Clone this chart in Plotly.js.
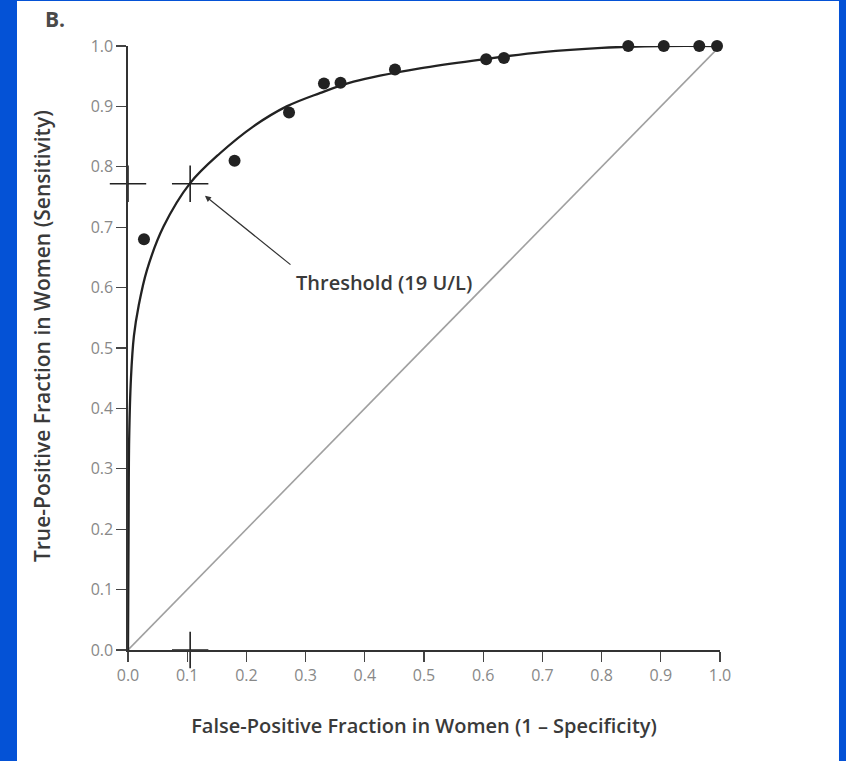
<!DOCTYPE html>
<html>
<head>
<meta charset="utf-8">
<script src="https://cdn.plot.ly/plotly-3.0.1.min.js"></script>
<style>html,body{margin:0;padding:0;background:#0452d6;}#chart{width:846px;height:761px;}</style>
</head>
<body>
<div id="chart"></div>
<script>
// Observed data points (false-positive fraction, true-positive fraction)
const pointsFPF = [0.027, 0.18, 0.272, 0.331, 0.359, 0.451, 0.605, 0.635, 0.845, 0.905, 0.965, 0.995];
const pointsTPF = [0.68, 0.81, 0.89, 0.938, 0.939, 0.961, 0.978, 0.98, 1.0, 1.0, 1.0, 1.0];

// Fitted ROC curve
const curveFPF = [0, 0.001, 0.002, 0.005, 0.01, 0.018, 0.032, 0.06, 0.105, 0.155, 0.212, 0.268, 0.324, 0.381, 0.493, 0.6, 0.7, 0.8, 0.9, 1.0];
const curveTPF = [0, 0.2, 0.35, 0.45, 0.52, 0.57, 0.629, 0.701, 0.773, 0.822, 0.867, 0.9, 0.922, 0.941, 0.963, 0.978, 0.99, 0.997, 1.0, 1.0];

// Chance line
const chanceX = [0, 1];
const chanceY = [0, 1];

// Threshold markers
const thresholdFPF = [0.105, 0, 0.105];
const thresholdTPF = [0.772, 0.772, 0];
const thresholdLabel = "Threshold (19 U/L)";

const tickVals = [0, 0.1, 0.2, 0.3, 0.4, 0.5, 0.6, 0.7, 0.8, 0.9, 1.0];
const tickText = ["0.0", "0.1", "0.2", "0.3", "0.4", "0.5", "0.6", "0.7", "0.8", "0.9", "1.0"];

const xTitle = "False-Positive Fraction in Women (1 \u2013 Specificity)";
const yTitle = "True-Positive Fraction in Women (Sensitivity)";
const panelLabel = "B.";

const font = "'Open Sans', 'DejaVu Sans', sans-serif";

const traces = [
  {x: chanceX, y: chanceY, mode: 'lines', line: {color: '#a0a0a0', width: 1.6}, cliponaxis: false},
  {x: curveFPF, y: curveTPF, mode: 'lines', line: {color: '#222', width: 2.3, shape: 'spline', smoothing: 1}, cliponaxis: false},
  {x: pointsFPF, y: pointsTPF, mode: 'markers', marker: {color: '#222', size: 12}, cliponaxis: false},
  {x: thresholdFPF, y: thresholdTPF, mode: 'markers',
   marker: {symbol: 'cross-thin-open', size: 26, color: '#222', line: {color: '#222', width: 1.6}}, cliponaxis: false}
];

const axisCommon = {
  range: [0, 1],
  tickvals: tickVals,
  ticktext: tickText,
  ticks: 'outside',
  tickcolor: '#444',
  tickwidth: 1.2,
  showgrid: false,
  zeroline: false,
  showline: true,
  linecolor: '#333',
  linewidth: 1.6,
  tickfont: {family: font, size: 16, color: '#888'},
  fixedrange: true
};

const layout = {
  width: 846,
  height: 761,
  margin: {l: 128, r: 126, t: 46, b: 111},
  paper_bgcolor: '#0452d6',
  plot_bgcolor: 'rgba(0,0,0,0)',
  showlegend: false,
  xaxis: Object.assign({}, axisCommon, {
    ticklen: 10,
    title: {text: xTitle, font: {family: font, size: 20, weight: 600, color: '#3a3a3a'}, standoff: 34}
  }),
  yaxis: Object.assign({}, axisCommon, {
    ticklen: 10
  }),
  shapes: [
    {type: 'rect', xref: 'paper', yref: 'paper', x0: -0.1875, x1: 1.201, y0: -0.19, y1: 1.0745,
     fillcolor: '#ffffff', line: {width: 0}, layer: 'below'}
  ],
  annotations: [
    {xref: 'paper', yref: 'paper', x: -0.145, y: 0.52, xanchor: 'center', yanchor: 'middle', textangle: -90,
     text: yTitle, showarrow: false, font: {family: font, size: 21, weight: 600, color: '#3a3a3a'}},
    {xref: 'x', yref: 'y', x: 0.13, y: 0.752, axref: 'x', ayref: 'y', ax: 0.277, ay: 0.636,
     text: '', showarrow: true, arrowhead: 2, arrowsize: 1, arrowwidth: 1.2, arrowcolor: '#333'},
    {xref: 'x', yref: 'y', x: 0.433, y: 0.609, text: thresholdLabel, showarrow: false,
     font: {family: font, size: 20, weight: 600, color: '#3a3a3a'}},
    {xref: 'paper', yref: 'paper', x: -0.123, y: 1.045, xanchor: 'center', yanchor: 'middle',
     text: '<b>' + panelLabel + '</b>', showarrow: false, font: {family: font, size: 21, color: '#4a4a4a'}}
  ]
};

Plotly.newPlot('chart', traces, layout, {displayModeBar: false, staticPlot: true});
</script>
</body>
</html>
